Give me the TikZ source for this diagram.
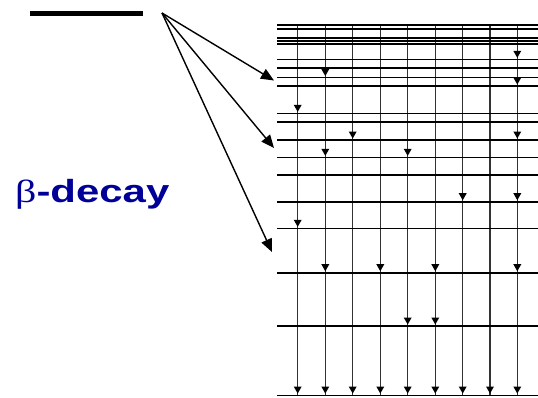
\documentclass[tikz,border=0pt]{standalone}
\usepackage{fontspec}
\setmainfont{Liberation Sans}
\newfontfamily\greekfont{Liberation Serif}
\usetikzlibrary{arrows.meta}
\definecolor{betablue}{RGB}{0,0,153}
\definecolor{vgray}{RGB}{50,50,50}
\tikzset{
  level/.style={line width=1.6pt, black},
  trans/.style={line width=1.1pt, vgray},
  feed/.style={line width=1.4pt, black, -{Triangle[length=13pt,width=11pt]}},
  parent/.style={line width=5.3pt, black},
  tip/.style={fill=black, draw=none}
}
\newcommand{\smallarr}[2]{%
  \fill[tip] (#1-4,#2-8.5) -- (#1+4,#2-8.5) -- (#1,#2-1.5) -- cycle;}
\begin{document}
\begin{tikzpicture}[x={(1pt,0)}, y={(0,-1pt)}]
\useasboundingbox (0,0) rectangle (538,397);
% vertical transition lines
\foreach \cx in {297.7,325.3,352.7,380.3,407.7,435.3,462.7,490,517.3}
  \draw[trans] (\cx,25) -- (\cx,395);
% levels
\foreach \ly in {25,29,37.7,41,44,59.3,68,77.5,86,113.3,121.7,140,157.3,175,201.7,228.3,272.7,326,395.5}
  \draw[level] (277,\ly) -- (538,\ly);
% small arrowheads
\foreach \cx/\ly in {297.7/113.3,297.7/228.3,297.7/395,
  325.3/77.5,325.3/157.3,325.3/272.7,325.3/395,
  352.7/140,352.7/395,
  380.3/272.7,380.3/395,
  407.7/157.3,407.7/326,407.7/395,
  435.3/272.7,435.3/326,435.3/395,
  462.7/201.7,462.7/395,
  490/395,
  517.3/59.3,517.3/86,517.3/140,517.3/201.7,517.3/272.7,517.3/395}
  {\smallarr{\cx}{\ly}}
% parent level and feeding
\draw[parent] (30,13.3) -- (143,13.3);
\coordinate (src) at (162,13);
\coordinate (t1) at (274,80.5);
\coordinate (t2) at (274,148);
\coordinate (t3) at (272,252);
\draw[feed] (src) -- (t1);
\draw[feed] (src) -- (t2);
\draw[feed] (src) -- (t3);
\node[anchor=base west, inner sep=0pt, text=betablue, font=\bfseries\fontsize{32}{36}\selectfont] (lbl) at (15,202.7) {\scalebox{1.31}[1]{{\greekfont\mdseries β}-decay}};
\end{tikzpicture}
\end{document}
